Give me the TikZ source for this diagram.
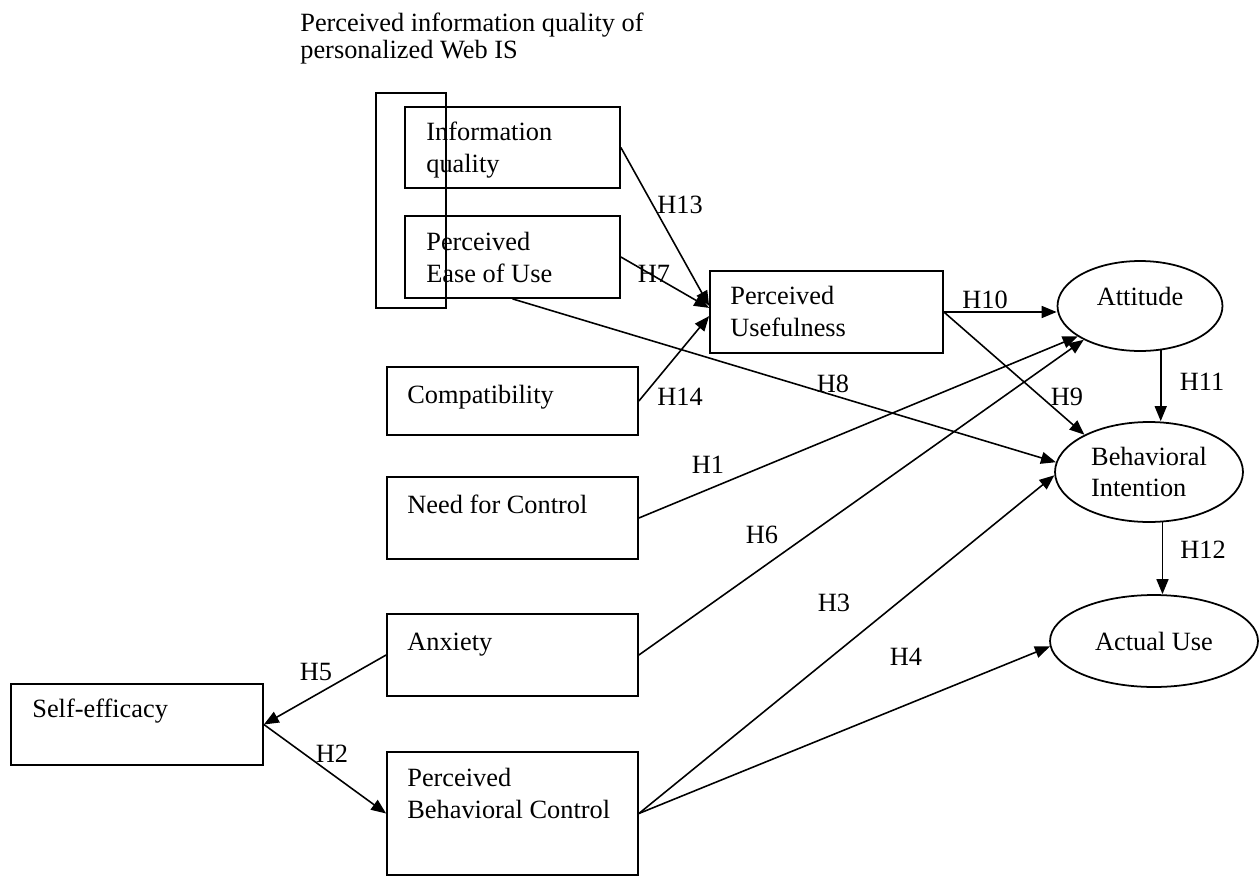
\documentclass[tikz,border=0pt]{standalone}
\usepackage{fontspec}
\setmainfont{Liberation Serif}
\usetikzlibrary{shapes,arrows.meta,positioning,fit,calc}

\tikzset{
  box/.style={draw, line width=1pt, inner sep=0pt},
  oval/.style={draw, ellipse, line width=1pt, inner sep=0pt, align=left},
  txt/.style={anchor=base west, inner sep=0pt, align=left},
  hyp/.style={anchor=base, inner sep=0pt},
  arr/.style={line width=0.9pt, -{Triangle[length=8.5pt, width=6.8pt]}}
}

\begin{document}
\begin{tikzpicture}[x=0.02cm, y=-0.02cm, font=\fontsize{15}{18}\selectfont]
  \useasboundingbox (0,0) rectangle (1259,876);

  % Title of the grouped constructs
  \node[txt, font=\fontsize{15}{15.3}\selectfont] (title) at (300,58)
    {Perceived information quality of\\personalized Web IS};
  \draw[line width=1pt] (376,93) rectangle (446,308);

  % Boxes
  \node[box, fit={(405,107) (620,188)}] (infoq) {};
  \node[box, fit={(405,216) (620,298)}] (peou) {};
  \node[box, fit={(710,271) (943,353)}] (pu) {};
  \node[box, fit={(387,367) (638,435)}] (compat) {};
  \node[box, fit={(387,477) (638,559)}] (needctrl) {};
  \node[box, fit={(387,614) (638,696)}] (anx) {};
  \node[box, fit={(387,752) (638,875)}] (pbc) {};
  \node[box, fit={(11,684) (263,765)}] (selfeff) {};

  % Texts in the boxes (base = last line)
  \node[txt] at (426,172) {Information\\quality};
  \node[txt] at (426,282) {Perceived\\Ease of Use};
  \node[txt] at (730,336) {Perceived\\Usefulness};
  \node[txt] at (407,403) {Compatibility};
  \node[txt] at (407,513) {Need for Control};
  \node[txt] at (407,650) {Anxiety};
  \node[txt] at (407,818) {Perceived\\Behavioral Control};
  \node[txt] at (32,717) {Self-efficacy};

  % Ellipses
  \node[oval, minimum width=3.3cm, minimum height=1.8cm, text depth=11pt] (att) at (1140,306) {Attitude};
  \node[oval, minimum width=3.76cm, minimum height=2cm] (bi) at (1149,472) {Behavioral\\Intention};
  \node[oval, minimum width=4.16cm, minimum height=1.84cm] (use) at (1154,641) {Actual Use};

  % Hypotheses
  \draw[arr] (infoq.east) -- (pu.177);
  \draw[arr] (peou.east) -- (pu.178);
  \draw[arr] (compat.east) -- (pu.182);
  \draw[arr] (pu.east) -- (pu.east -| att.west);
  \draw[arr] (pu.east) -- (bi.150);
  \draw[arr] (peou.south) -- (bi.174);
  \draw[arr] (needctrl.east) -- (att.206);
  \draw[arr] (anx.east) -- (att.211);
  \draw[arr] (anx.west) -- (selfeff.east);
  \draw[arr] (selfeff.east) -- (pbc.west);
  \draw[arr] (pbc.east) -- (bi.182);
  \draw[arr] (pbc.east) -- (use.183);
  \draw[arr] (att.295) -- (att.295 |- bi.north);
  \draw[arr] (bi.285) -- (bi.285 |- use.north);

  % Labels of the hypotheses
  \node[hyp] (h13) at (680,213) {H13};
  \node[hyp] (h7) at (654,282) {H7};
  \node[hyp] (h14) at (680,405) {H14};
  \node[hyp] (h10) at (985,308) {H10};
  \node[hyp] (h8) at (833,392) {H8};
  \node[hyp] (h9) at (1067,405) {H9};
  \node[hyp] (h11) at (1202,390) {H11};
  \node[hyp] (h1) at (708,473) {H1};
  \node[hyp] (h6) at (762,543) {H6};
  \node[hyp] (h3) at (834,611) {H3};
  \node[hyp] (h4) at (906,665) {H4};
  \node[hyp] (h12) at (1203,558) {H12};
  \node[hyp] (h5) at (316,680) {H5};
  \node[hyp] (h2) at (332,762) {H2};
\end{tikzpicture}
\end{document}
